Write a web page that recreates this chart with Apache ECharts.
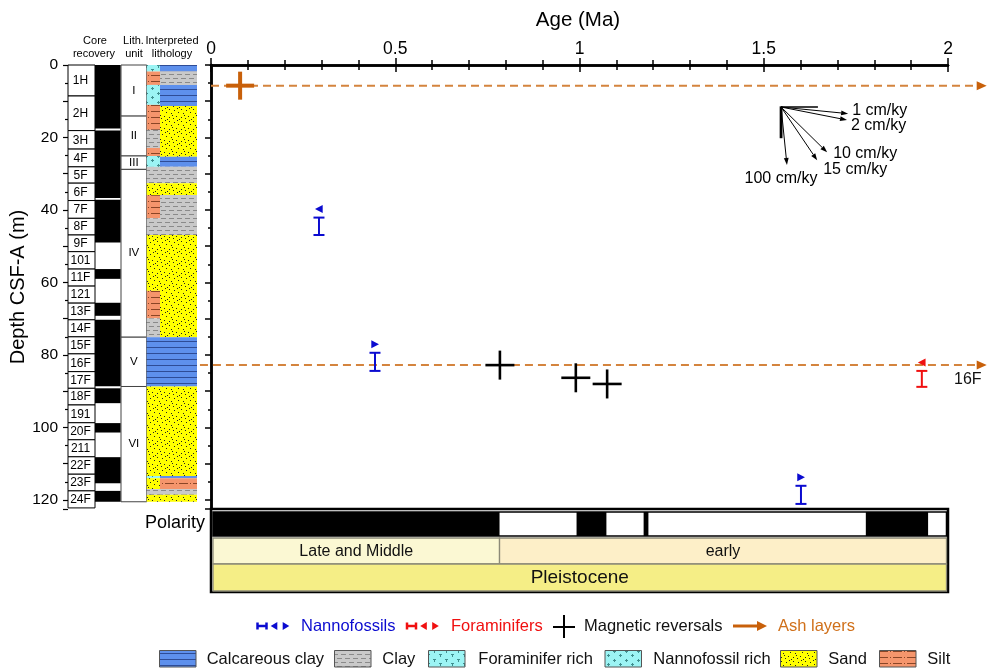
<!DOCTYPE html>
<html><head><meta charset="utf-8">
<script src="https://cdn.jsdelivr.net/npm/echarts@6/dist/echarts.min.js"></script>
<style>html,body{margin:0;padding:0;background:#fff}#c{width:987px;height:668px}</style>
</head><body><div id="c"></div>
<script>
// ---------------- DATA ----------------
const ageTicks = [0, 0.5, 1, 1.5, 2];
const depthTicks = [0, 20, 40, 60, 80, 100, 120];
const depthMax = 122.5;

const coreNames = ['1H','2H','3H','4F','5F','6F','7F','8F','9F','101','11F','121','13F','14F','15F','16F','17F','18F','191','20F','211','22F','23F','24F'];
const coreBottoms = [8.55,18.1,23.2,28.1,32.6,37.4,42.3,46.9,51.5,56.3,61.0,65.7,70.3,75.0,79.7,84.6,89.2,93.8,98.7,103.4,108.1,112.9,117.5,122.2];

const recoveredTops    = [0,    18.1, 37.2, 56.3, 65.6, 70.3, 89.2, 98.8, 108.2, 117.5];
const recoveredBottoms = [17.5, 36.7, 49.0, 59.0, 69.2, 88.6, 93.3, 101.4, 115.4, 120.5];

const unitNames = ['I','II','III','IV','V','VI'];
const unitBottoms = [14.1, 25.1, 28.8, 75.1, 88.7, 120.5];

// lithology: narrow (left) sub-column and wide (right) sub-column
const lithNarrowTops    = [0, 1.8, 5.5, 11.0, 17.9, 22.9, 25.1, 28.1, 32.6, 35.9, 42.3, 46.9, 62.3, 69.9, 75.1, 88.7, 113.4, 114.0, 117.0, 118.6];
const lithNarrowBottoms = [1.8, 5.5, 11.0, 17.9, 22.9, 25.1, 28.1, 32.6, 35.9, 42.3, 46.9, 62.3, 69.9, 75.1, 88.7, 113.4, 114.0, 117.0, 118.6, 120.5];
const lithNarrowTypes   = ['foram','silt','nanno','silt','clay','silt','nanno','clay','sand','silt','clay','sand','silt','clay','calc','sand','foram','sand','clay','sand'];
const lithWideTops      = [0, 1.8, 5.5, 11.3, 25.3, 28.1, 32.6, 35.9, 46.9, 75.1, 88.7, 113.4, 114.0, 117.0, 118.6];
const lithWideBottoms   = [1.8, 5.5, 11.3, 25.3, 28.1, 32.6, 35.9, 46.9, 75.1, 88.7, 113.4, 114.0, 117.0, 118.6, 120.5];
const lithWideTypes     = ['calc','clay','calc','sand','calc','clay','sand','clay','sand','calc','sand','calc','silt','clay','sand'];

const ashDepths   = [5.7, 82.8];
const ashStartAge = [0, -0.03];
const ashEndAge   = [2.105, 2.105];
const ashCoreLabel = ['', '16F'];
const ashCrossAges = [0.079];
const ashCrossDepths = [5.7];

const magAges   = [0.784, 0.990, 1.075];
const magDepths = [82.8, 86.3, 88.0];

const nannoAges = [0.293, 0.445, 1.601];
const nannoTop  = [42.1, 79.4, 116.1];
const nannoBot  = [46.9, 84.4, 121.1];
const nannoDir  = [-1, 1, 1];

const foramAges = [1.929];
const foramTop  = [84.4];
const foramBot  = [88.8];
const foramDir  = [-1];

const rateOrigin = [1.547, 11.6];          // age (Ma), depth (m)
const rateFrameAge = 0.1, rateFrameDepth = 8.6;
const rateValues = [1, 2, 10, 15, 100];    // cm/ky
const rateArrowAge = [0.182, 0.179, 0.125, 0.098, 0.016];
const rateLabels = ['1 cm/ky','2 cm/ky','10 cm/ky','15 cm/ky','100 cm/ky'];

const polStart  = [0, 0.783, 0.992, 1.073, 1.174, 1.187, 1.777, 1.946];
const polEnd    = [0.783, 0.992, 1.073, 1.174, 1.187, 1.777, 1.946, 2];
const polNormal = [1, 0, 1, 0, 1, 0, 1, 0];

const subEpochNames = ['Late and Middle', 'early'];
const subEpochStart = [0, 0.783];
const subEpochEnd   = [0.783, 2];
const epochNames = ['Pleistocene'];
const epochStart = [0];
const epochEnd   = [2];

// ---------------- STYLE ----------------
const FF = "'Liberation Sans', Arial, Helvetica, sans-serif";
const BLUE = '#0B0BD0', RED = '#F01010', ORANGE = '#C8600A', DASH_OR = '#D4843E';
const COL = {core:[0,27], rec:[27,52.7], unit:[53,78.7], narrow:[78.7,92], wide:[92,129]};
const ROWS = {pol:[3,27], sub:[29,55], ep:[55,82]};
const subColors = ['#FBF8D3', '#FDEFC8'];
const epColor = '#F5EE86';
const RATE_LABEL_OFF = [[4,-3,'left'],[4,6,'left'],[6,1.5,'left'],[6,9.5,'left'],[-6,13.5,'center']];

function pat(key){
  const c = document.createElement('canvas');
  let ctx;
  function dots(color, pts, s){ ctx.fillStyle = color; pts.forEach(p=>ctx.fillRect(p[0],p[1],s||1,s||1)); }
  if (key==='calc'){ c.width=8; c.height=6; ctx=c.getContext('2d'); ctx.fillStyle='#5E90EC'; ctx.fillRect(0,0,8,6); ctx.fillStyle='#2E4C96'; ctx.fillRect(0,5,8,1.2); }
  else if (key==='clay'){ c.width=16; c.height=8; ctx=c.getContext('2d'); ctx.fillStyle='#C9C9C9'; ctx.fillRect(0,0,16,8); ctx.fillStyle='#8A8A8A';
    ctx.fillRect(1,2,5,1); ctx.fillRect(9,2,5,1); ctx.fillRect(5,6,5,1); ctx.fillRect(13,6,3,1); ctx.fillRect(0,6,2,1); }
  else if (key==='foram' || key==='nanno'){ c.width=12; c.height=9; ctx=c.getContext('2d'); ctx.fillStyle='#9CF4F4'; ctx.fillRect(0,0,12,9); ctx.fillStyle='#3F8E8E';
    if (key==='foram'){ ctx.fillRect(1,2,3,1); ctx.fillRect(2,2,1,3); ctx.fillRect(7,6,3,1); ctx.fillRect(8,6,1,3); }
    else { ctx.fillRect(1,3,3,1); ctx.fillRect(2,2,1,3); ctx.fillRect(7,7,3,1); ctx.fillRect(8,6,1,3); } }
  else if (key==='sand'){ c.width=12; c.height=12; ctx=c.getContext('2d'); ctx.fillStyle='#FFFF00'; ctx.fillRect(0,0,12,12);
    dots('#222', [[1,1],[6,2],[10,4],[3,5],[8,8],[1,9],[5,10],[11,11],[9,0],[4,7]], 1); }
  else if (key==='silt'){ c.width=14; c.height=6; ctx=c.getContext('2d'); ctx.fillStyle='#F5956C'; ctx.fillRect(0,0,14,6); ctx.fillStyle='#8A4526';
    ctx.fillRect(0,3,6,1); ctx.fillRect(8,3,1,1); ctx.fillRect(11,3,3,1); }
  return {image:c, repeat:'repeat'};
}
const PATS = {};
['calc','clay','foram','nanno','sand','silt'].forEach(k=>PATS[k]=pat(k));

function txt(text, x, y, size, color, align, vAlign){
  return {type:'text', x:0, y:0, style:{text, x, y, fontSize:size, fontFamily:FF, fill:color||'#000',
    align:align||'left', textAlign:align||'left', verticalAlign:vAlign||'middle', textVerticalAlign:vAlign||'middle'}};
}

// ---------------- RENDERERS ----------------
function colRect(params, api, col){
  const cs = params.coordSys;
  const y0 = api.coord([0, api.value(0)])[1], y1 = api.coord([0, api.value(1)])[1];
  return {x: cs.x + col[0], y: y0, w: col[1]-col[0], h: y1-y0};
}
function renderCore(params, api){
  const r = colRect(params, api, COL.core);
  return {type:'group', children:[
    {type:'rect', shape:{x:r.x, y:r.y, width:r.w, height:r.h}, style:{fill:'#fff', stroke:'#000', lineWidth:1}},
    txt(coreNames[params.dataIndex], r.x + r.w/2 - 1, r.y + r.h/2 + 0.5, 12, '#000', 'center')
  ]};
}
function renderRec(params, api){
  const r = colRect(params, api, COL.rec);
  return {type:'rect', shape:{x:r.x, y:r.y, width:r.w, height:r.h}, style:{fill:'#000'}};
}
function renderUnit(params, api){
  const r = colRect(params, api, COL.unit);
  return {type:'group', children:[
    {type:'rect', shape:{x:r.x, y:r.y, width:r.w, height:r.h}, style:{fill:'#fff', stroke:'#444', lineWidth:1}},
    txt(unitNames[params.dataIndex], r.x + r.w/2, r.y + r.h/2, 11.5, '#000', 'center')
  ]};
}
function renderLith(col, types){
  return function(params, api){
    const r = colRect(params, api, col);
    return {type:'rect', shape:{x:r.x, y:r.y, width:r.w, height:r.h}, style:{fill:PATS[types[params.dataIndex]]}};
  };
}
function renderAsh(params, api){
  const cs = params.coordSys;
  const p0 = api.coord([api.value(0), api.value(2)]);
  const p1 = api.coord([api.value(1), api.value(2)]);
  const ch = [
    {type:'line', shape:{x1:p0[0], y1:p0[1], x2:p1[0]-8, y2:p1[1]}, style:{stroke:DASH_OR, lineWidth:2, lineDash:[8,5]}},
    {type:'polygon', shape:{points:[[p1[0],p1[1]],[p1[0]-10,p1[1]-4.5],[p1[0]-10,p1[1]+4.5]]}, style:{fill:ORANGE}}
  ];
  const lab = ashCoreLabel[params.dataIndex];
  if (lab) ch.push(txt(lab, cs.x + cs.width + 6, p1[1] + 14.5, 16, '#111', 'left'));
  return {type:'group', children:ch};
}
function crossRender(color, hw, lw){
  return function(params, api){
    const p = api.coord([api.value(0), api.value(1)]);
    return {type:'group', children:[
      {type:'line', shape:{x1:p[0]-hw, y1:p[1], x2:p[0]+hw, y2:p[1]}, style:{stroke:color, lineWidth:lw}},
      {type:'line', shape:{x1:p[0], y1:p[1]-hw, x2:p[0], y2:p[1]+hw}, style:{stroke:color, lineWidth:lw}}
    ]};
  };
}
function errRender(color){
  return function(params, api){
    const p0 = api.coord([api.value(0), api.value(1)]);
    const p1 = api.coord([api.value(0), api.value(2)]);
    const dir = api.value(3);
    const x = p0[0], hw = 5.5, ty = p0[1] - 8.5;
    const tri = dir < 0 ? [[x-4,ty],[x+3.7,ty-4],[x+3.7,ty+4]] : [[x+4,ty],[x-3.7,ty-4],[x-3.7,ty+4]];
    return {type:'group', children:[
      {type:'line', shape:{x1:x, y1:p0[1], x2:x, y2:p1[1]}, style:{stroke:color, lineWidth:2}},
      {type:'line', shape:{x1:x-hw, y1:p0[1], x2:x+hw, y2:p0[1]}, style:{stroke:color, lineWidth:2}},
      {type:'line', shape:{x1:x-hw, y1:p1[1], x2:x+hw, y2:p1[1]}, style:{stroke:color, lineWidth:2}},
      {type:'polygon', shape:{points:tri}, style:{fill:color}}
    ]};
  };
}
function renderRate(params, api){
  const i = params.dataIndex;
  const r = api.value(0), da = api.value(1);
  const p0 = api.coord(rateOrigin);
  const p1 = api.coord([rateOrigin[0] + da, rateOrigin[1] + r * da * 10]);
  const dx = p1[0]-p0[0], dy = p1[1]-p0[1], L = Math.hypot(dx,dy), ux = dx/L, uy = dy/L;
  const bx = p1[0]-ux*7, by = p1[1]-uy*7, nx = -uy, ny = ux;
  const off = RATE_LABEL_OFF[i];
  const ch = [
    {type:'line', shape:{x1:p0[0], y1:p0[1], x2:bx, y2:by}, style:{stroke:'#000', lineWidth:1}},
    {type:'polygon', shape:{points:[[p1[0],p1[1]],[bx+nx*2.4,by+ny*2.4],[bx-nx*2.4,by-ny*2.4]]}, style:{fill:'#000'}},
    txt(rateLabels[i], p1[0]+off[0], p1[1]+off[1], 16, '#000', off[2])
  ];
  if (i === 0){
    const ph = api.coord([rateOrigin[0] + rateFrameAge, rateOrigin[1]]);
    const pv = api.coord([rateOrigin[0], rateOrigin[1] + rateFrameDepth]);
    ch.unshift({type:'line', shape:{x1:p0[0], y1:p0[1], x2:ph[0], y2:ph[1]}, style:{stroke:'#000', lineWidth:1.5}});
    ch.unshift({type:'line', shape:{x1:p0[0], y1:p0[1]-0.7, x2:pv[0], y2:pv[1]}, style:{stroke:'#000', lineWidth:2.8}});
  }
  return {type:'group', children:ch};
}
function bandX(params, api, a, b){
  const cs = params.coordSys;
  const x0 = Math.max(api.coord([a,0])[0], cs.x + 2), x1 = Math.min(api.coord([b,0])[0], cs.x + cs.width - 1.5);
  return [x0, x1];
}
function rowY(api, row){ return [api.coord([0,row[0]])[1], api.coord([0,row[1]])[1]]; }
function renderPol(params, api){
  if (!api.value(2)) return null;
  const xs = bandX(params, api, api.value(0), api.value(1)), ys = rowY(api, ROWS.pol);
  return {type:'rect', shape:{x:xs[0], y:ys[0], width:xs[1]-xs[0], height:ys[1]-ys[0]}, style:{fill:'#000'}};
}
function renderPolFrame(params, api){
  const xs = bandX(params, api, api.value(0), api.value(1)), ys = rowY(api, ROWS.pol);
  return {type:'rect', shape:{x:xs[0], y:ys[0], width:xs[1]-xs[0], height:ys[1]-ys[0]}, style:{fill:null, stroke:'#000', lineWidth:1.5}};
}
function renderSub(params, api){
  const i = params.dataIndex;
  const xs = bandX(params, api, api.value(0), api.value(1)), ys = rowY(api, ROWS.sub);
  return {type:'group', children:[
    {type:'rect', shape:{x:xs[0], y:ys[0], width:xs[1]-xs[0], height:ys[1]-ys[0]}, style:{fill:subColors[i], stroke:'#8C8A78', lineWidth:1.3}},
    txt(subEpochNames[i], (xs[0]+xs[1])/2, (ys[0]+ys[1])/2 + 0.5, 16, '#111', 'center')
  ]};
}
function renderEp(params, api){
  const i = params.dataIndex;
  const xs = bandX(params, api, api.value(0), api.value(1)), ys = rowY(api, ROWS.ep);
  return {type:'group', children:[
    {type:'rect', shape:{x:xs[0], y:ys[0], width:xs[1]-xs[0], height:ys[1]-ys[0]}, style:{fill:epColor, stroke:'#8C8A78', lineWidth:1.3}},
    txt(epochNames[i], (xs[0]+xs[1])/2, (ys[0]+ys[1])/2 + 0.5, 19, '#111', 'center')
  ]};
}

// ---------------- DATA -> SERIES DATA ----------------
const coreData = coreBottoms.map((b,i)=>[i===0?0:coreBottoms[i-1], b]);
const recData = recoveredTops.map((t,i)=>[t, recoveredBottoms[i]]);
const unitData = unitBottoms.map((b,i)=>[i===0?0:unitBottoms[i-1], b]);
const narrowData = lithNarrowTops.map((t,i)=>[t, lithNarrowBottoms[i]]);
const wideData = lithWideTops.map((t,i)=>[t, lithWideBottoms[i]]);
const ashData = ashDepths.map((d,i)=>[ashStartAge[i], ashEndAge[i], d]);
const ashCrossData = ashCrossAges.map((a,i)=>[a, ashCrossDepths[i]]);
const magData = magAges.map((a,i)=>[a, magDepths[i]]);
const nannoData = nannoAges.map((a,i)=>[a, nannoTop[i], nannoBot[i], nannoDir[i]]);
const foramData = foramAges.map((a,i)=>[a, foramTop[i], foramBot[i], foramDir[i]]);
const rateData = rateValues.map((r,i)=>[r, rateArrowAge[i]]);
const polData = polStart.map((s,i)=>[s, polEnd[i], polNormal[i]]);
const subData = subEpochStart.map((s,i)=>[s, subEpochEnd[i]]);
const epData = epochStart.map((s,i)=>[s, epochEnd[i]]);

// ---------------- LEGEND GRAPHICS ----------------
function legendErr(x0, x1, y, color){
  return [
    {type:'line', shape:{x1:x0, y1:y, x2:x1, y2:y}, style:{stroke:color, lineWidth:2.5}},
    {type:'line', shape:{x1:x0, y1:y-3.5, x2:x0, y2:y+3.5}, style:{stroke:color, lineWidth:2.5}},
    {type:'line', shape:{x1:x1, y1:y-3.5, x2:x1, y2:y+3.5}, style:{stroke:color, lineWidth:2.5}},
  ];
}
function tri(x, y, dir, color){
  const pts = dir<0 ? [[x-3.3,y],[x+3.3,y-4],[x+3.3,y+4]] : [[x+3.3,y],[x-3.3,y-4],[x-3.3,y+4]];
  return {type:'polygon', shape:{points:pts}, style:{fill:color}};
}
const LY1 = 626, LY2 = 659;
const graphics = [
  txt('Age (Ma)', 578, 20, 20.5, '#000', 'center'),
  txt('Polarity', 205, 523, 18, '#000', 'right'),
  txt('Core', 95, 41, 11, '#000', 'center'), txt('recovery', 94, 53.5, 11, '#000', 'center'),
  txt('Lith.', 133.5, 41, 11, '#000', 'center'), txt('unit', 134, 53.5, 11, '#000', 'center'),
  txt('Interpreted', 172, 41, 11, '#000', 'center'), txt('lithology', 172, 53.5, 11, '#000', 'center'),
  ...legendErr(257.5, 266.5, LY1, BLUE), tri(274, LY1, -1, BLUE), tri(286, LY1, 1, BLUE),
  txt('Nannofossils', 301, LY1, 16.5, BLUE),
  ...legendErr(407, 416, LY1, RED), tri(423.5, LY1, -1, RED), tri(435.5, LY1, 1, RED),
  txt('Foraminifers', 451, LY1, 16.5, RED),
  {type:'line', shape:{x1:553, y1:LY1+1, x2:575, y2:LY1+1}, style:{stroke:'#000', lineWidth:2}},
  {type:'line', shape:{x1:564, y1:615, x2:564, y2:638}, style:{stroke:'#000', lineWidth:2}},
  txt('Magnetic reversals', 584, LY1, 16.5, '#111'),
  {type:'line', shape:{x1:733, y1:LY1, x2:758, y2:LY1}, style:{stroke:ORANGE, lineWidth:3}},
  {type:'polygon', shape:{points:[[767,LY1],[757,LY1-5],[757,LY1+5]]}, style:{fill:ORANGE}},
  txt('Ash layers', 778, LY1, 16.5, '#D0701A'),
];
const swX = [159.5, 334.5, 428.5, 605, 780.5, 879.5];
const swKeys = ['calc','clay','foram','nanno','sand','silt'];
const swText = ['Calcareous clay','Clay','Foraminifer rich','Nannofossil rich','Sand','Silt'];
const swTextX = [206.7, 382.3, 478.3, 653.3, 828.3, 927.3];
swKeys.forEach((k,i)=>{
  graphics.push({type:'rect', shape:{x:swX[i], y:650.5, width:36.5, height:16.5}, style:{fill:PATS[k], stroke:'#555', lineWidth:1}});
  graphics.push(txt(swText[i], swTextX[i], LY2, 16.5, '#111'));
});

// ---------------- CHART ----------------
const chart = echarts.init(document.getElementById('c'), null, {renderer:'canvas'});
const axBlack = {color:'#000', width:2.5};
const tickFmt = v => (v % (depthTicks[1]-depthTicks[0]) === 0 ? String(v) : '');
chart.setOption({
  animation:false,
  backgroundColor:'#fff',
  grid:[
    {left:211, top:65, width:737, height:444, outerBoundsMode:'none'},
    {left:68, top:65, width:129, height:444, outerBoundsMode:'none'},
    {left:211, top:509, width:737, height:83, show:true, borderColor:'#000', borderWidth:2.5, backgroundColor:'transparent', outerBoundsMode:'none'}
  ],
  xAxis:[
    {gridIndex:0, type:'value', position:'top', min:ageTicks[0], max:ageTicks[ageTicks.length-1], interval:ageTicks[1]-ageTicks[0],
      axisLine:{lineStyle:axBlack}, axisTick:{inside:true, length:7, lineStyle:{color:'#000', width:1.5}},
      minorTick:{show:true, splitNumber:5, length:5, lineStyle:{color:'#000', width:1.5}},
      axisLabel:{fontSize:17.5, color:'#000', fontFamily:FF, margin:7}, splitLine:{show:false}},
    {gridIndex:0, type:'value', position:'bottom', min:ageTicks[0], max:ageTicks[ageTicks.length-1], interval:ageTicks[1]-ageTicks[0],
      axisLine:{lineStyle:axBlack}, axisTick:{inside:true, length:7, lineStyle:{color:'#000', width:1.5}},
      minorTick:{show:true, splitNumber:5, length:5, lineStyle:{color:'#000', width:1.5}},
      axisLabel:{show:false}, splitLine:{show:false}},
    {gridIndex:1, type:'value', min:0, max:1, show:false},
    {gridIndex:2, type:'value', min:ageTicks[0], max:ageTicks[ageTicks.length-1], show:false}
  ],
  yAxis:[
    {gridIndex:0, type:'value', inverse:true, position:'left', min:depthTicks[0], max:depthMax, interval:10,
      axisLine:{lineStyle:axBlack}, axisTick:{length:6, lineStyle:{color:'#000', width:1.5}},
      minorTick:{show:true, splitNumber:2, length:3, lineStyle:{color:'#000', width:1.5}},
      axisLabel:{show:false}, splitLine:{show:false}},
    {gridIndex:0, type:'value', inverse:true, position:'right', min:depthTicks[0], max:depthMax,
      axisLine:{show:true, lineStyle:axBlack}, axisTick:{show:false}, axisLabel:{show:false}, splitLine:{show:false}},
    {gridIndex:1, type:'value', inverse:true, position:'left', min:depthTicks[0], max:depthMax, interval:10,
      axisLine:{show:false}, axisTick:{show:true, length:5, lineStyle:{color:'#000', width:1.2}},
      minorTick:{show:true, splitNumber:2, length:3, lineStyle:{color:'#000', width:1.2}},
      axisLabel:{fontSize:15.5, color:'#000', fontFamily:FF, margin:10, formatter:tickFmt, showMaxLabel:false},
      splitLine:{show:false},
      name:'Depth CSF-A (m)', nameLocation:'middle', nameGap:39, nameRotate:90,
      nameTextStyle:{fontSize:20, color:'#000', fontFamily:FF}},
    {gridIndex:2, type:'value', inverse:true, min:0, max:83, show:false}
  ],
  series:[
    {type:'custom', xAxisIndex:2, yAxisIndex:2, renderItem:renderCore, data:coreData, silent:true},
    {type:'custom', xAxisIndex:2, yAxisIndex:2, renderItem:renderRec, data:recData, silent:true},
    {type:'custom', xAxisIndex:2, yAxisIndex:2, renderItem:renderUnit, data:unitData, silent:true},
    {type:'custom', xAxisIndex:2, yAxisIndex:2, renderItem:renderLith(COL.narrow, lithNarrowTypes), data:narrowData, silent:true},
    {type:'custom', xAxisIndex:2, yAxisIndex:2, renderItem:renderLith(COL.wide, lithWideTypes), data:wideData, silent:true},
    {type:'custom', xAxisIndex:0, yAxisIndex:0, renderItem:renderAsh, data:ashData, clip:false, silent:true},
    {type:'custom', xAxisIndex:0, yAxisIndex:0, renderItem:crossRender(ORANGE, 14, 4), data:ashCrossData, silent:true},
    {type:'custom', xAxisIndex:0, yAxisIndex:0, renderItem:crossRender('#000', 14.5, 2.6), data:magData, silent:true},
    {type:'custom', xAxisIndex:0, yAxisIndex:0, renderItem:errRender(BLUE), data:nannoData, silent:true},
    {type:'custom', xAxisIndex:0, yAxisIndex:0, renderItem:errRender(RED), data:foramData, silent:true},
    {type:'custom', xAxisIndex:0, yAxisIndex:0, renderItem:renderRate, data:rateData, silent:true},
    {type:'custom', xAxisIndex:3, yAxisIndex:3, renderItem:renderPol, data:polData, silent:true},
    {type:'custom', xAxisIndex:3, yAxisIndex:3, renderItem:renderPolFrame, data:[[ageTicks[0], ageTicks[ageTicks.length-1]]], silent:true},
    {type:'custom', xAxisIndex:3, yAxisIndex:3, renderItem:renderSub, data:subData, silent:true},
    {type:'custom', xAxisIndex:3, yAxisIndex:3, renderItem:renderEp, data:epData, silent:true}
  ],
  graphic:{elements:graphics}
});
</script>
</body></html>
